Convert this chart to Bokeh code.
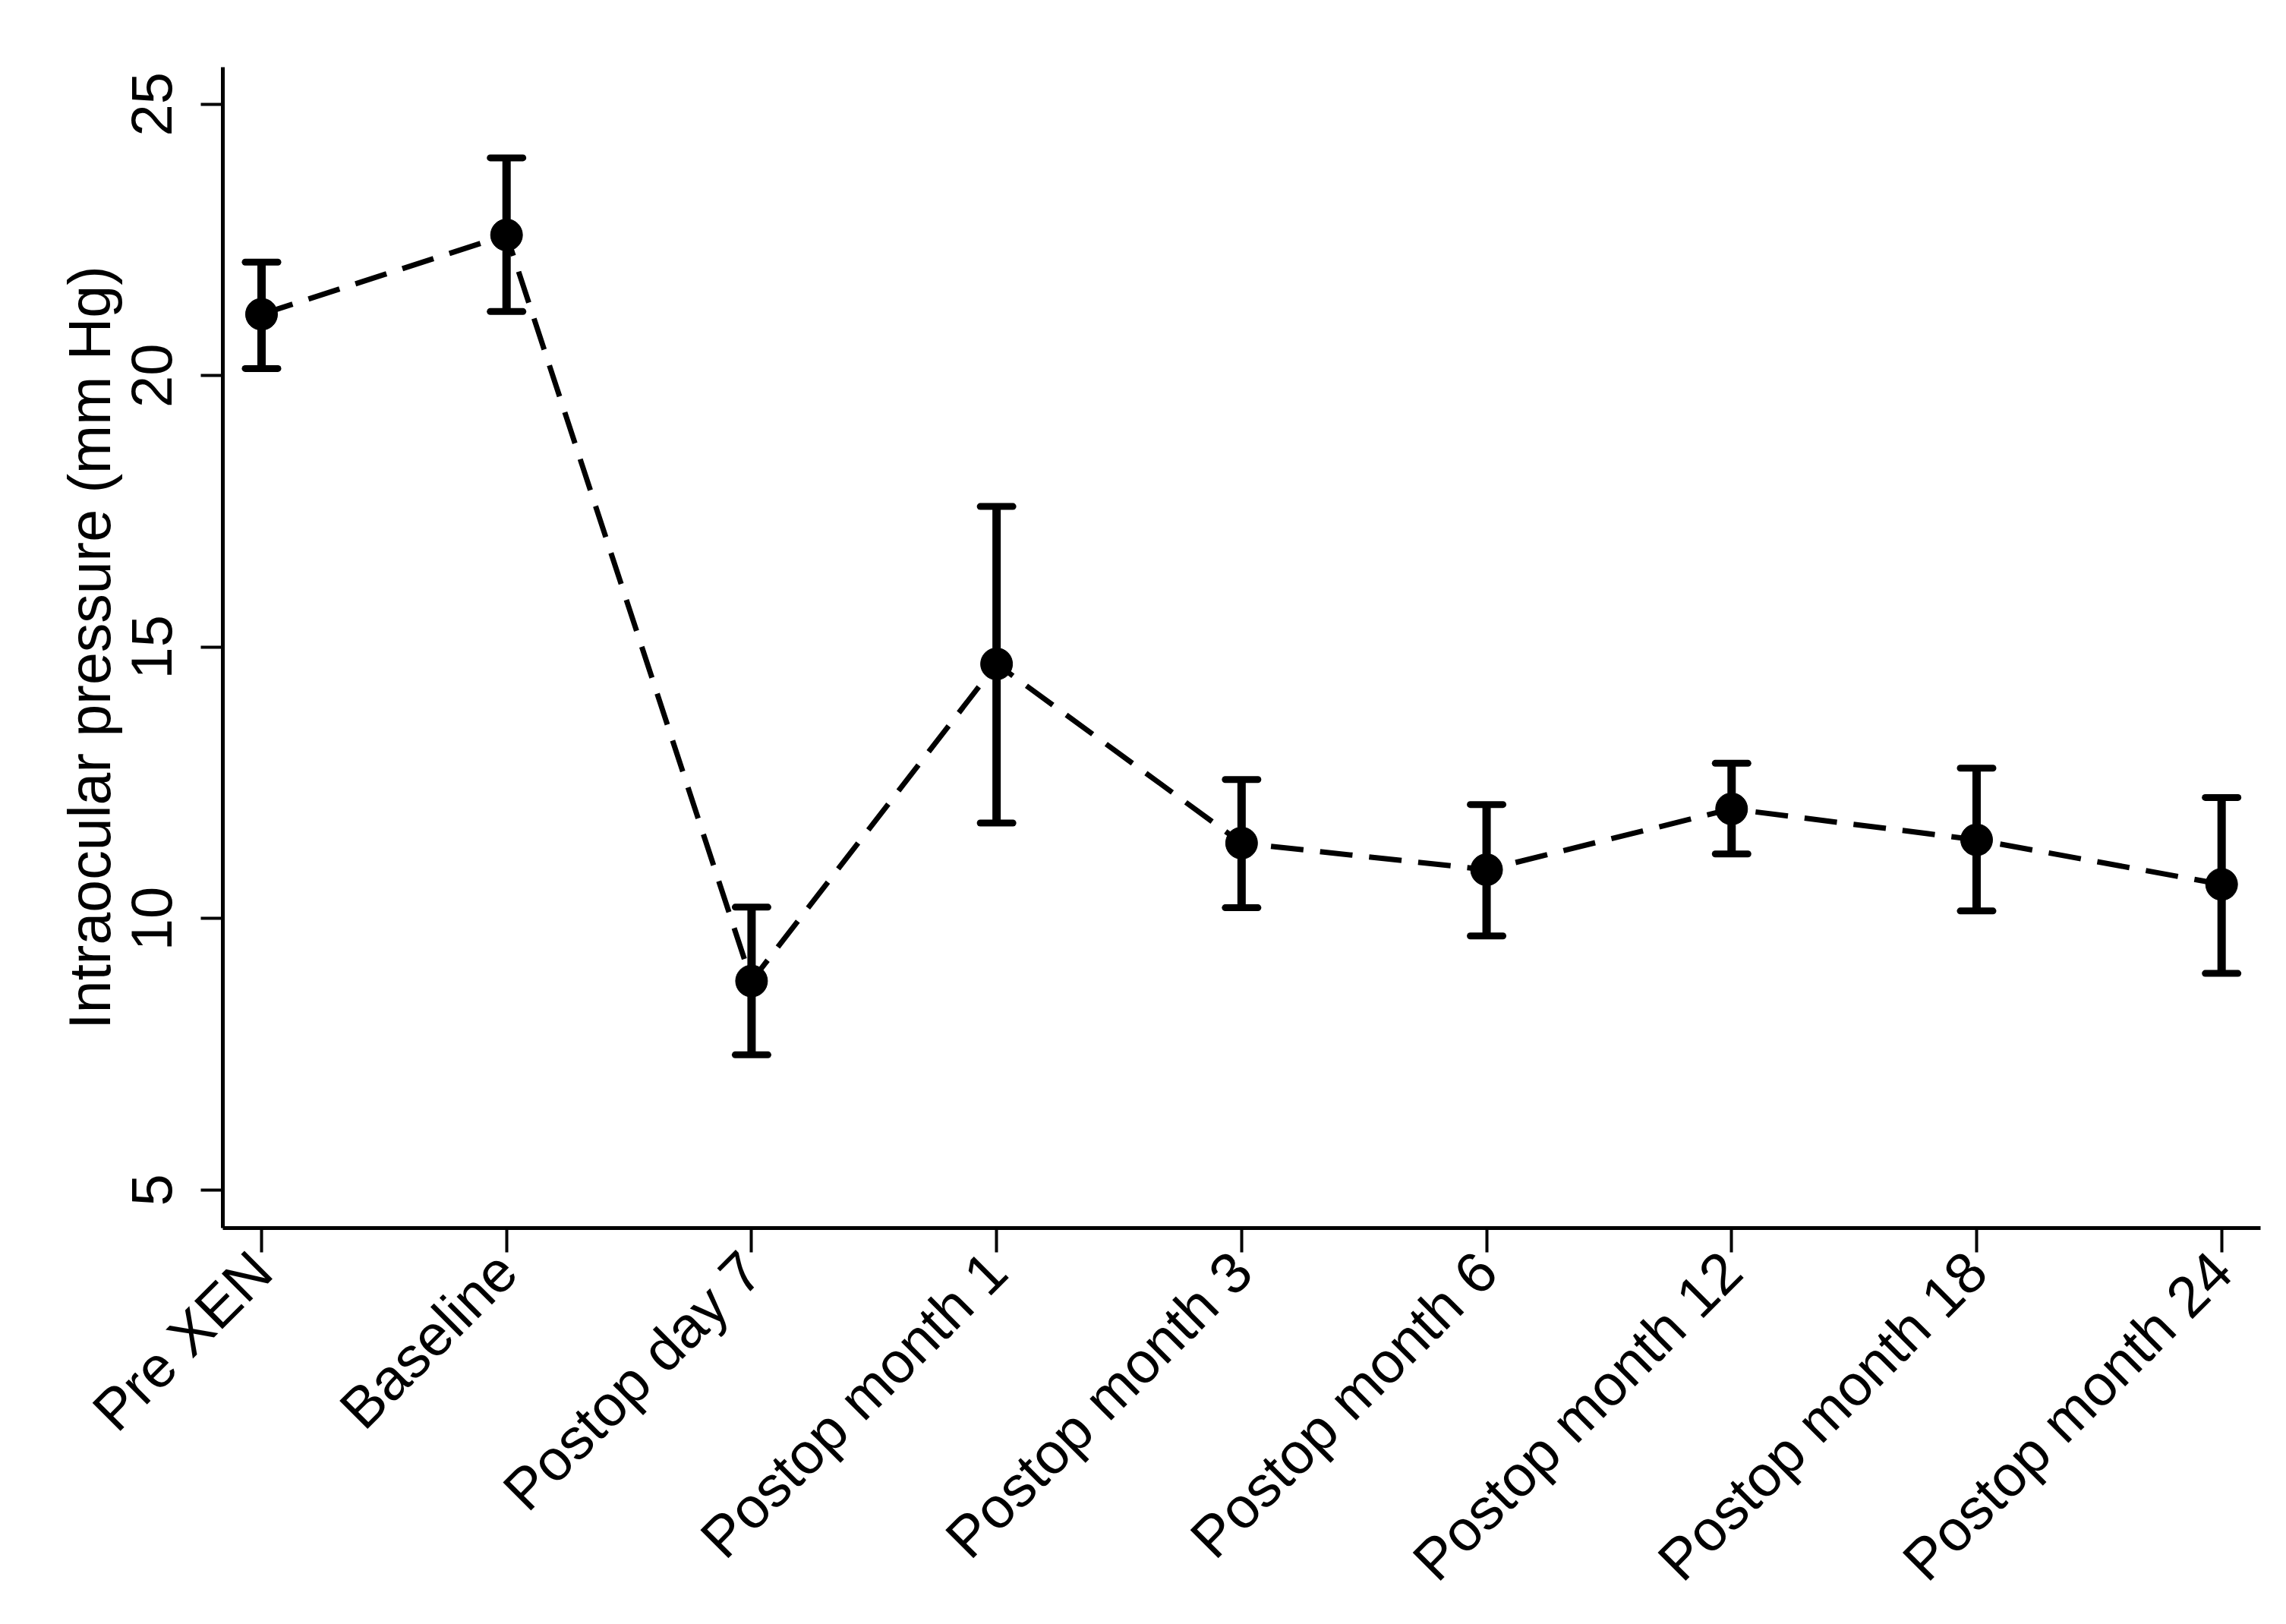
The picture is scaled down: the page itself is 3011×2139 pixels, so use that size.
import math
from bokeh.plotting import figure
from bokeh.models import ColumnDataSource, FixedTicker, Range1d, Whisker, TeeHead
from bokeh.embed import file_html
from bokeh.resources import INLINE

categories = ["Pre XEN", "Baseline", "Postop day 7", "Postop month 1", "Postop month 3",
              "Postop month 6", "Postop month 12", "Postop month 18", "Postop month 24"]
mean_iop = [21.13, 22.59, 8.85, 14.69, 11.39, 10.90, 12.02, 11.45, 10.63]
upper_iop = [22.09, 24.01, 10.21, 17.59, 12.56, 12.10, 12.86, 12.77, 12.23]
lower_iop = [20.13, 21.18, 7.49, 11.76, 10.20, 9.68, 11.19, 10.14, 8.99]
y_ticks = [5, 10, 15, 20, 25]

xs = list(range(len(categories)))
src = ColumnDataSource(dict(x=xs, mean=mean_iop, upper=upper_iop, lower=lower_iop))

FONT = "Liberation Sans"

p = figure(width=3000, height=2130, output_backend="svg", toolbar_location=None,
           x_range=Range1d(-0.158, 8.159), y_range=Range1d(4.30, 25.68),
           min_border_left=293, min_border_right=23, min_border_top=88, min_border_bottom=510)
p.outline_line_color = None
p.xgrid.visible = False
p.ygrid.visible = False
p.background_fill_color = "white"
p.border_fill_color = "white"

# dashed connecting line
p.line("x", "mean", source=src, line_color="black", line_width=7, line_dash="43 22")

# error bars
w = Whisker(base="x", upper="upper", lower="lower", source=src,
            line_color="black", line_width=11, line_cap="butt",
            upper_head=TeeHead(size=43, line_width=9, line_color="black", line_cap="round"),
            lower_head=TeeHead(size=43, line_width=9, line_color="black", line_cap="round"))
p.add_layout(w)

# markers
p.scatter("x", "mean", source=src, size=42, fill_color="black", line_color="black")

# x axis
xa = p.xaxis[0]
xa.ticker = FixedTicker(ticks=xs)
xa.major_label_overrides = {i: c for i, c in enumerate(categories)}
xa.major_label_orientation = math.pi / 4
xa.major_label_text_font = FONT
xa.major_label_text_font_size = "76px"
xa.major_label_text_color = "black"
xa.major_label_standoff = 12
xa.axis_line_width = 5
xa.axis_line_color = "black"
xa.major_tick_line_width = 4
xa.major_tick_line_color = "black"
xa.major_tick_out = 32
xa.major_tick_in = 0
xa.minor_tick_line_color = None

# y axis
ya = p.yaxis[0]
ya.ticker = FixedTicker(ticks=y_ticks)
ya.major_label_orientation = "vertical"
ya.major_label_text_font = FONT
ya.major_label_text_font_size = "76px"
ya.major_label_text_color = "black"
ya.major_label_standoff = 38
ya.axis_line_width = 5
ya.axis_line_color = "black"
ya.major_tick_line_width = 4
ya.major_tick_line_color = "black"
ya.major_tick_out = 29
ya.major_tick_in = 0
ya.minor_tick_line_color = None
ya.axis_label = "Intraocular pressure (mm Hg)"
ya.axis_label_text_font = FONT
ya.axis_label_text_font_size = "77px"
ya.axis_label_text_font_style = "normal"
ya.axis_label_text_color = "black"
ya.axis_label_standoff = 10

open("out.html", "w").write(file_html(p, INLINE))
